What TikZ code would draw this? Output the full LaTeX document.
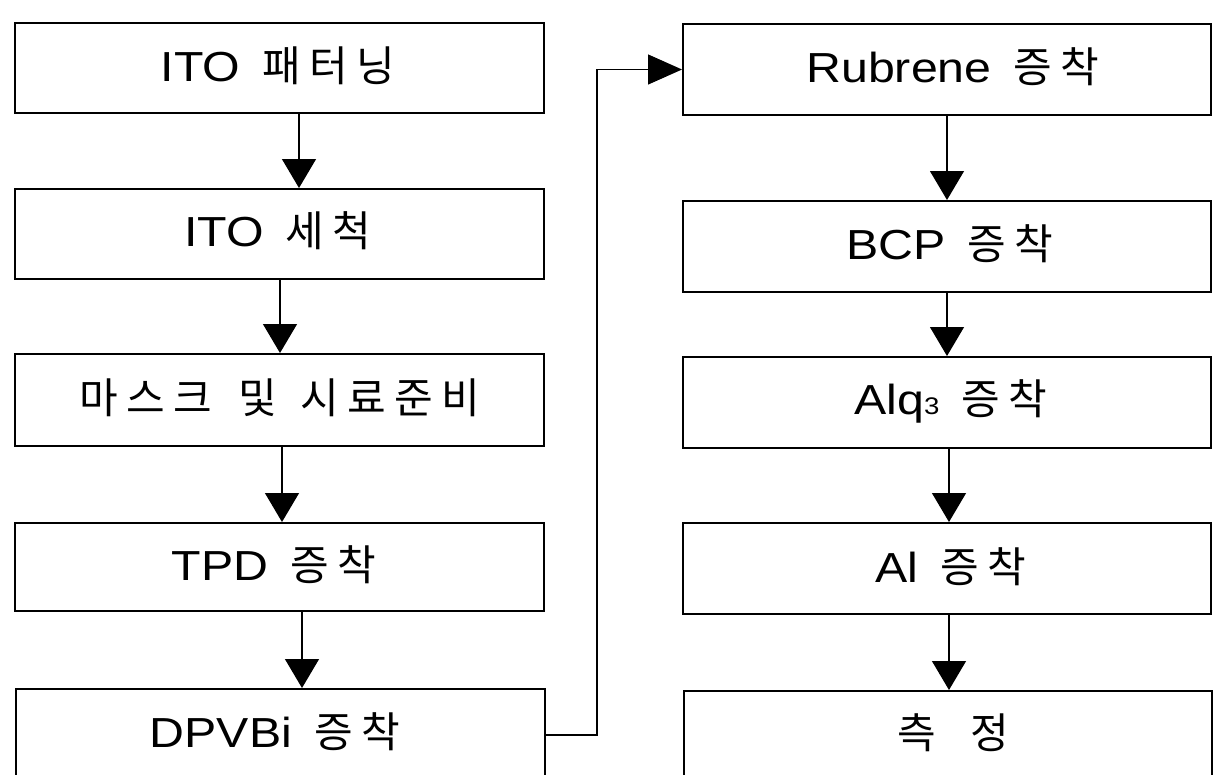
\documentclass[tikz,border=0pt]{standalone}
\usepackage{fontspec}
\setmainfont{Liberation Sans}[FakeStretch=1.15]
\newfontfamily\kr{Noto Sans CJK KR}
\newcommand\hg[1]{\makebox[47pt]{\kr\fontsize{42}{42}\selectfont #1}}
\newcommand\gap{\hspace{18pt}}
\usetikzlibrary{arrows.meta}
\begin{document}
\begin{tikzpicture}[x=1pt,y=-1pt,
  box/.style={draw, line width=2pt, inner sep=0pt, anchor=north west, minimum width=529pt},
  rbox/.style={box, minimum width=528pt},
  lbl/.style={font=\fontsize{42}{42}\selectfont, inner sep=0pt, anchor=center},
  conn/.style={line width=1.3pt, -{Triangle[length=29pt,width=34pt]}},
  feed/.style={line width=1.3pt, -{Triangle[length=34pt,width=30pt]}},
]
\useasboundingbox (0,0) rectangle (1215,774);
\clip (0,0) rectangle (1215,774);
% left column
\node[box, minimum height=90pt] (b1) at (14,22) {};
\node[box, minimum height=90pt] (b2) at (14,188) {};
\node[box, minimum height=92pt] (b3) at (14,353) {};
\node[box, minimum height=88pt] (b4) at (14,522) {};
\node[box, minimum height=92pt] (b5) at (15,688) {};
% right column
\node[rbox, minimum height=91pt] (r1) at (682,23) {};
\node[rbox, minimum height=91pt] (r2) at (682,200) {};
\node[rbox, minimum height=91pt] (r3) at (682,356) {};
\node[rbox, minimum height=91pt] (r4) at (682,522) {};
\node[rbox, minimum height=92pt] (r5) at (683,690) {};
% labels
\node[lbl] (t1) at (280,66) {ITO\gap\hg{패}\hg{터}\hg{닝}};
\node[lbl] (t2) at (280,231) {ITO\gap\hg{세}\hg{척}};
\node[lbl] (t3) at (280,398) {\hg{마}\hg{스}\hg{크}\hspace{18pt}\hg{및}\hspace{15pt}\hg{시}\hg{료}\hg{준}\hg{비}};
\node[lbl] (t4) at (276,565) {TPD\gap\hg{증}\hg{착}};
\node[lbl] (t5) at (277,732) {DPVBi\gap\hg{증}\hg{착}};
\node[lbl] (s1) at (955,67) {Rubrene\gap\hg{증}\hg{착}};
\node[lbl] (s2) at (952,244) {BCP\gap\hg{증}\hg{착}};
\node[lbl] (s3) at (953,401) {Alq{\fontsize{24}{24}\selectfont 3}\gap\hg{증}\hg{착}};
\node[lbl] (s4) at (953,567) {Al\gap\hg{증}\hg{착}};
\node[lbl] (s5) at (953,733) {\hg{측}\hspace{26pt}\hg{정}};
% connectors
\draw[conn] ([xshift=19.5pt]b1.south) -- ([xshift=19.5pt]b2.north);
\draw[conn] ([xshift=0.5pt]b2.south) -- ([xshift=0.5pt]b3.north);
\draw[conn] ([xshift=2.5pt]b3.south) -- ([xshift=2.5pt]b4.north);
\draw[conn] ([xshift=22.5pt]b4.south) -- ([xshift=21.5pt]b5.north);
\draw[conn] ([xshift=0pt]r1.south) -- ([xshift=0pt]r2.north);
\draw[conn] ([xshift=0pt]r2.south) -- ([xshift=0pt]r3.north);
\draw[conn] ([xshift=2pt]r3.south) -- ([xshift=2pt]r4.north);
\draw[conn] ([xshift=2pt]r4.south) -- ([xshift=1pt]r5.north);
\draw[feed] (b5.east) -- ++(51,0) |- (r1.west);
\end{tikzpicture}
\end{document}
